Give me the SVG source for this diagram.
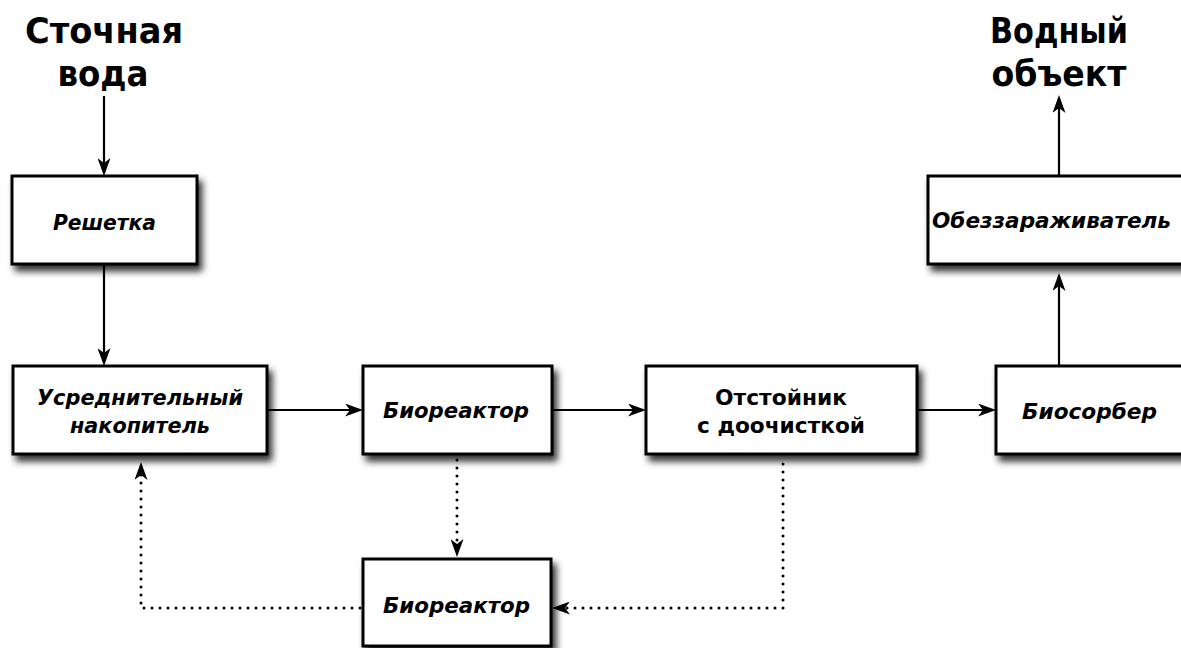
<svg xmlns="http://www.w3.org/2000/svg" width="1181" height="648" viewBox="0 0 1181 648">
<style>
.box{fill:#fff;stroke:#000;stroke-width:3;filter:url(#sh)}
.lbl{font-family:"DejaVu Sans",sans-serif;font-weight:bold;font-style:italic;font-size:22px;fill:#000;text-anchor:middle}
.up{font-style:normal}
.ttl{font-family:"DejaVu Sans",sans-serif;font-weight:bold;font-size:36px;fill:#000;text-anchor:middle}
.ln{fill:none;stroke:#000;stroke-width:2.2;marker-end:url(#ah)}
.dot{fill:none;stroke:#000;stroke-width:3;stroke-linecap:round;stroke-dasharray:0 8;marker-end:url(#ah)}
</style>
<defs>
<filter id="sh" x="-20%" y="-30%" width="150%" height="170%">
<feDropShadow dx="4" dy="6" stdDeviation="3.5" flood-color="#000" flood-opacity="0.8"/>
</filter>
<marker id="ah" viewBox="0 0 18 13" refX="15" refY="6.5" markerWidth="18" markerHeight="13" markerUnits="userSpaceOnUse" orient="auto">
<path d="M18,6.5 L0,0 L5,6.5 L0,13 Z" fill="#000"/>
</marker>
</defs>
<g id="title-in">
<text class="ttl" x="104" y="43" textLength="158" lengthAdjust="spacingAndGlyphs">Сточная</text>
<text class="ttl" x="103" y="86" textLength="91" lengthAdjust="spacingAndGlyphs">вода</text>
</g>
<g id="title-out">
<text class="ttl" x="1059" y="43" textLength="138" lengthAdjust="spacingAndGlyphs">Водный</text>
<text class="ttl" x="1059" y="86" textLength="135" lengthAdjust="spacingAndGlyphs">объект</text>
</g>
<g id="connectors">
<path class="ln" d="M104,96 L104,173"/>
<path class="ln" d="M104,264 L104,363"/>
<path class="ln" d="M267,410 L360,410"/>
<path class="ln" d="M552,410 L643,410"/>
<path class="ln" d="M917,410 L993,410"/>
<path class="ln" d="M1059,366 L1059,276"/>
<path class="ln" d="M1059,176 L1059,98"/>
<path class="dot" d="M457,460 L457,554"/>
<path class="dot" d="M783,464 L783,608 L555,608"/>
<path class="dot" d="M360,608 L141,608 L141,465"/>
</g>
<g id="reshetka">
<rect class="box" x="12" y="176" width="185" height="88"/>
<text class="lbl" x="104.5" y="230" textLength="103" lengthAdjust="spacingAndGlyphs">Решетка</text>
</g>
<g id="usrednitel">
<rect class="box" x="13" y="366" width="254" height="88"/>
<text class="lbl" x="140" y="405" textLength="206" lengthAdjust="spacingAndGlyphs">Усреднительный</text>
<text class="lbl" x="140" y="433" textLength="140" lengthAdjust="spacingAndGlyphs">накопитель</text>
</g>
<g id="bioreaktor1">
<rect class="box" x="363" y="366" width="189" height="88"/>
<text class="lbl" x="456" y="418" textLength="146" lengthAdjust="spacingAndGlyphs">Биореактор</text>
</g>
<g id="otstoinik">
<rect class="box" x="646" y="366" width="271" height="88"/>
<text class="lbl up" x="781" y="405" textLength="132" lengthAdjust="spacingAndGlyphs">Отстойник</text>
<text class="lbl up" x="781" y="433" textLength="168" lengthAdjust="spacingAndGlyphs">с доочисткой</text>
</g>
<g id="biosorber">
<rect class="box" x="996" y="366" width="200" height="88"/>
<text class="lbl" x="1089.5" y="419" textLength="135" lengthAdjust="spacingAndGlyphs">Биосорбер</text>
</g>
<g id="obezzarazh">
<rect class="box" x="928" y="176" width="270" height="88"/>
<text class="lbl" x="1051.5" y="228" textLength="239" lengthAdjust="spacingAndGlyphs">Обеззараживатель</text>
</g>
<g id="bioreaktor2">
<rect class="box" x="363" y="559" width="188" height="87"/>
<text class="lbl" x="456.5" y="613" textLength="147" lengthAdjust="spacingAndGlyphs">Биореактор</text>
</g>
</svg>
